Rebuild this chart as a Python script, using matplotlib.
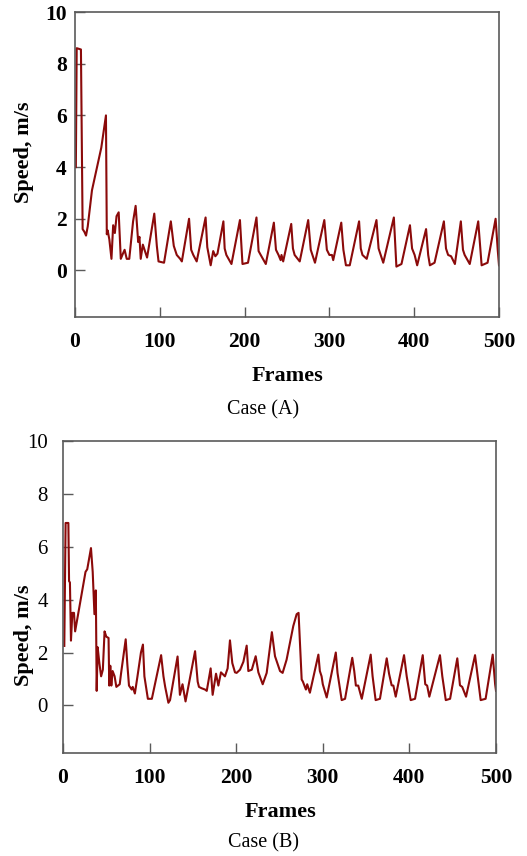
import matplotlib
matplotlib.use("Agg")
import matplotlib.pyplot as plt

# ---------------- data ----------------
a_frames = [1, 2, 7, 9, 11, 13, 15, 20, 31, 36.5, 37.5, 38.5, 40.5, 43, 45, 47, 49, 51.5, 54,
            56.5, 58.5, 61, 64, 68.5, 71.5, 74.5, 76, 77.5, 80, 82, 85, 93.5, 96.5, 98.5, 105,
            113, 116.5, 120, 124, 126, 134.5, 137, 139.5, 143.5, 154, 156, 160, 163, 165.5, 168,
            175, 176.5, 178.5, 184.5, 194.5, 197.5, 204, 214, 216.5, 219, 225, 234.5, 237, 240,
            242.5, 243.5, 245.5, 255, 257, 259, 265, 275, 278, 283, 294, 297, 300, 303, 304.5,
            314, 316.5, 319.5, 324, 335, 337, 339, 344, 355.5, 358, 363.5, 376, 379, 385, 395,
            397.5, 400.5, 403.5, 414, 416.5, 418.5, 424, 435, 437.5, 440, 443.5, 448, 455, 457.5,
            459.5, 465.5, 475.5, 479.5, 486.5, 496, 498.5, 500]
a_speed = [4.0, 8.6, 8.55, 1.6, 1.5, 1.35, 1.7, 3.1, 4.75, 6.0, 1.4, 1.55, 1.2, 0.45, 1.75, 1.45,
           2.1, 2.25, 0.45, 0.65, 0.8, 0.45, 0.45, 1.9, 2.5, 1.1, 1.3, 0.45, 1.0, 0.8, 0.5, 2.2,
           0.95, 0.35, 0.3, 1.9, 0.95, 0.6, 0.45, 0.35, 2.0, 0.8, 0.6, 0.35, 2.05, 0.9, 0.2, 0.75,
           0.55, 0.65, 1.9, 0.85, 0.6, 0.25, 1.95, 0.25, 0.3, 2.05, 0.75, 0.6, 0.25, 1.85, 0.8,
           0.6, 0.4, 0.6, 0.35, 1.8, 0.85, 0.6, 0.35, 1.95, 0.8, 0.3, 1.95, 0.8, 0.6, 0.6, 0.4,
           1.85, 0.8, 0.2, 0.2, 1.9, 0.85, 0.6, 0.45, 1.95, 0.85, 0.3, 2.05, 0.15, 0.25, 1.75,
           0.85, 0.6, 0.2, 1.6, 0.6, 0.2, 0.3, 1.9, 0.85, 0.6, 0.55, 0.25, 1.9, 0.8, 0.6, 0.25,
           1.9, 0.2, 0.3, 2.0, 0.8, 0.2]

b_frames = [1.5, 3, 6.2, 7, 8, 9.2, 10.8, 12.7, 14, 26, 28, 32.3, 34.3, 36.3, 37.9, 38.9, 40, 42,
            44, 46, 48, 50, 52.6, 53.4, 54.6, 55.8, 57.3, 59.6, 61.6, 65.5, 67, 72.4, 74.3, 76.2,
            79.3, 80.5, 83, 86, 90, 92.3, 94, 98, 102.6, 113.3, 116, 118, 121.7, 123.6, 132.3,
            135, 138, 141.5, 152.5, 155.5, 157, 160, 164, 166, 170.5, 172.8, 176.7, 179.4, 182.4,
            187, 190.1, 192.8, 195.5, 198.6, 200.5, 204.4, 208.3, 212.1, 214, 218, 222.5, 225.6,
            230.6, 235.2, 241.2, 244.8, 250.6, 253.6, 258.2, 265.9, 269.8, 272, 275.6, 277,
            278.3, 280.5, 282, 285.1, 294.9, 296.6, 298.6, 300, 304.5, 315, 317, 319, 321.8,
            325.7, 334, 336.3, 338.2, 340.9, 345, 355.3, 357.5, 361, 366, 373.8, 376.5, 379.5,
            381.5, 384.2, 393.8, 396.9, 401.5, 406.5, 415.4, 418.3, 420.5, 423, 435.3, 438, 442,
            447, 455.3, 458.4, 461, 465.4, 475.8, 478.9, 482.3, 488, 496.2, 499, 500]
b_speed = [2.25, 6.9, 6.9, 4.7, 4.65, 2.45, 3.5, 3.5, 2.8, 5.05, 5.15, 5.95, 5.05, 3.45, 4.35,
           0.55, 2.2, 1.6, 1.1, 1.35, 2.8, 2.6, 2.55, 0.75, 1.5, 0.75, 1.3, 1.1, 0.7, 0.8, 1.2,
           2.5, 1.55, 0.75, 0.6, 0.7, 0.45, 1.1, 2.0, 2.3, 1.1, 0.25, 0.25, 1.9, 1.1, 0.7, 0.1,
           0.2, 1.85, 0.4, 0.8, 0.15, 2.05, 0.9, 0.7, 0.65, 0.6, 0.55, 1.4, 0.4, 1.2, 0.75, 1.25,
           1.1, 1.4, 2.46, 1.6, 1.25, 1.23, 1.35, 1.65, 2.26, 1.3, 1.35, 1.86, 1.25, 0.8, 1.23,
           2.77, 1.86, 1.3, 1.23, 1.73, 3.0, 3.45, 3.5, 0.98, 0.9, 0.79, 0.6, 0.8, 0.48, 1.92,
           1.3, 1.1, 0.8, 0.3, 2.0, 1.23, 0.8, 0.2, 0.25, 1.8, 1.3, 0.75, 0.75, 0.25, 1.92, 1.1,
           0.2, 0.25, 1.78, 1.2, 0.76, 0.75, 0.33, 1.9, 1.1, 0.2, 0.25, 1.9, 0.8, 0.75, 0.33,
           1.9, 1.1, 0.2, 0.25, 1.78, 0.76, 0.7, 0.33, 1.9, 1.1, 0.2, 0.25, 1.92, 0.8, 0.55]

x_ticks = [0, 100, 200, 300, 400, 500]
y_ticks = [0, 2, 4, 6, 8, 10]
captions = ["Case (A)", "Case (B)"]

# ---------------- style ----------------
SERIF = ["Liberation Serif", "DejaVu Serif"]
LINE_COLOR = "#8b0a0a"
SPINE_COLOR = "#5a5a5a"

W, H = 527, 856
fig = plt.figure(figsize=(W / 100, H / 100), dpi=100)


def make_axes(left, top, right, bottom):
    return fig.add_axes([left / W, 1 - bottom / H, (right - left) / W, (bottom - top) / H])


def style(ax, frames, speed, ybold, ypad):
    ax.plot(frames, speed, color=LINE_COLOR, lw=1.5)
    ax.set_xlim(0, 500)
    ax.set_ylim(-1.8, 10)
    ax.set_xticks(x_ticks)
    ax.set_yticks(y_ticks)
    for s in ax.spines.values():
        s.set_color(SPINE_COLOR)
        s.set_linewidth(1.2)
    ax.tick_params(axis="both", direction="in", length=7.5, width=1.0, color=SPINE_COLOR)
    ax.tick_params(axis="x", pad=11)
    ax.tick_params(axis="y", pad=ypad)
    ax.set_xticklabels([str(t) for t in x_ticks], family=SERIF, fontsize=15.5, fontweight="bold")
    ax.set_yticklabels([str(t) for t in y_ticks], family=SERIF,
                       fontsize=15.5 if ybold else 15,
                       fontweight="bold" if ybold else "normal")


ax1 = make_axes(75, 12, 499, 317)
style(ax1, a_frames, a_speed, True, 6)
ax2 = make_axes(63, 441, 496, 753)
style(ax2, b_frames, b_speed, False, 11)


def ftext(x, y, s, **kw):
    fig.text(x / W, 1 - y / H, s, family=SERIF, ha="center", va="center", **kw)


ftext(287, 376, "Frames", fontsize=16, fontweight="bold")
ftext(263, 410, captions[0], fontsize=14.5)
ftext(24, 152, "Speed, m/s", fontsize=16, fontweight="bold", rotation=90)

ftext(280, 812, "Frames", fontsize=16, fontweight="bold")
ftext(263, 843, captions[1], fontsize=14.5)
ftext(24, 635, "Speed, m/s", fontsize=16, fontweight="bold", rotation=90)

fig.savefig("out.png", dpi=100)
